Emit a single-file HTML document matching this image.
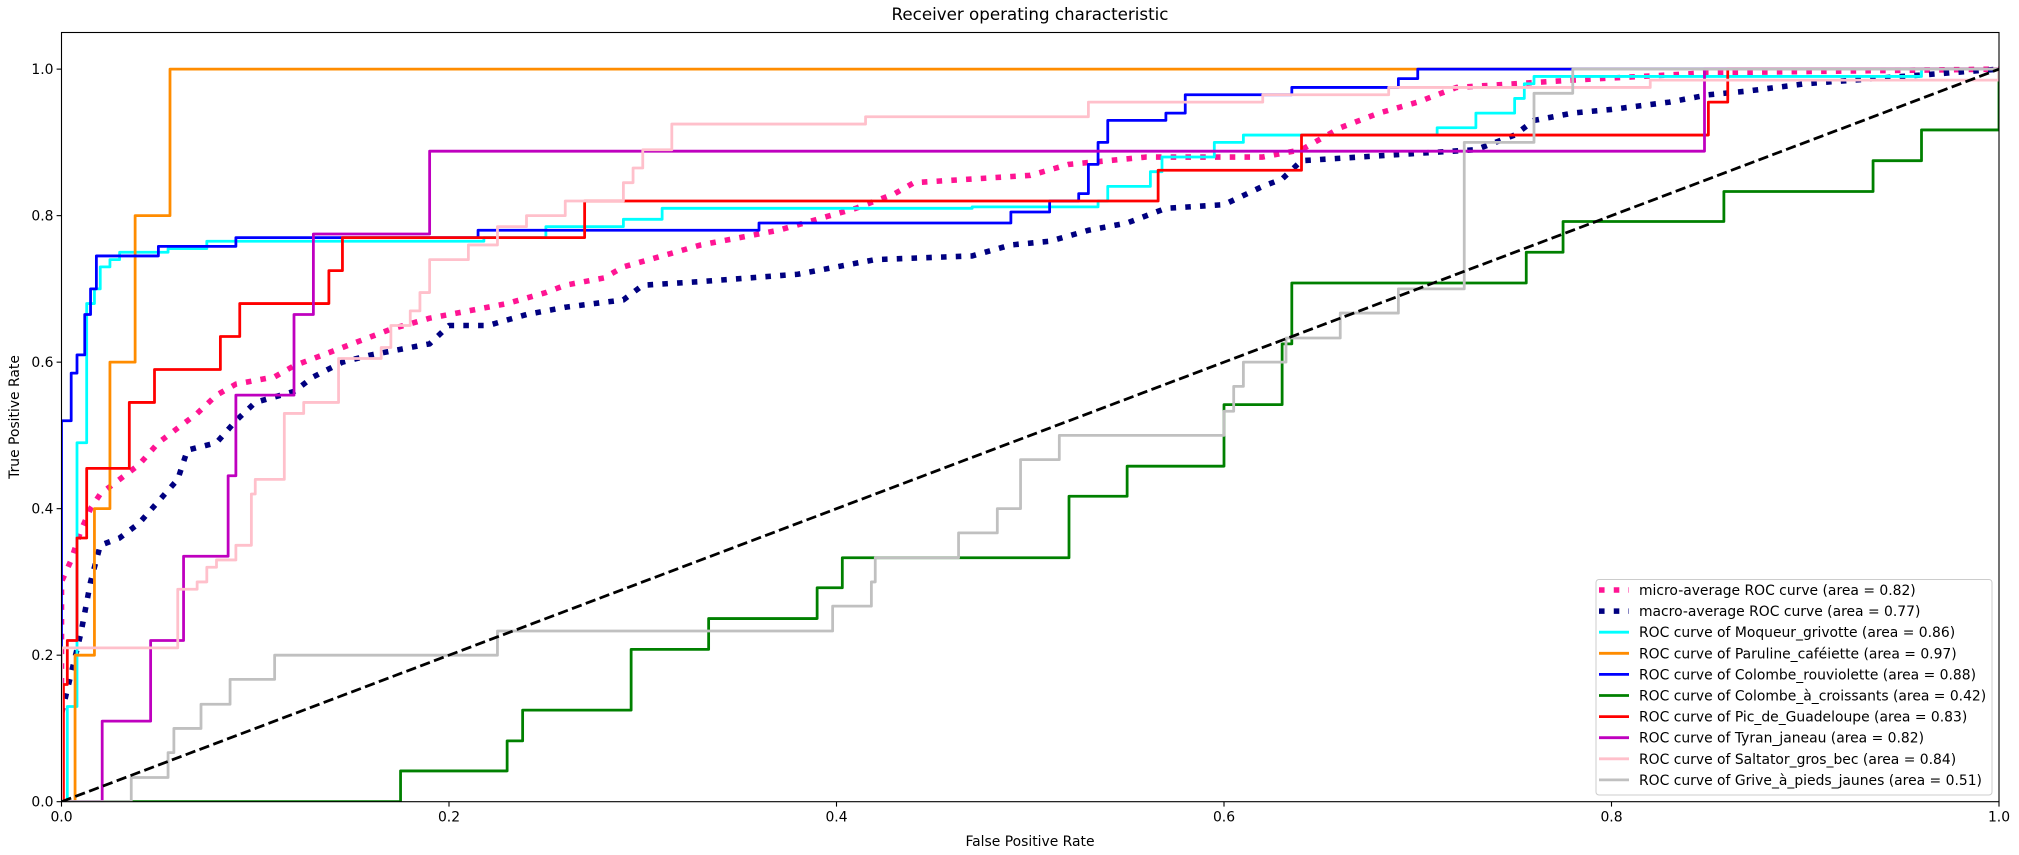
<!DOCTYPE html>
<html><head><meta charset="utf-8"><style>
body{margin:0;background:#fff;}
svg{display:block;font-family:"DejaVu Sans","Liberation Sans",sans-serif;}
</style></head><body>
<svg id="chart" width="2019" height="855">
<rect width="2019" height="855" fill="#fff"/>
<text x="1030" y="20" font-size="16.7" text-anchor="middle">Receiver operating characteristic</text>
<text x="1030" y="846" font-size="13.9" text-anchor="middle">False Positive Rate</text>
<text x="19" y="417" font-size="13.9" text-anchor="middle" transform="rotate(-90 19 417)">True Positive Rate</text>
<g id="plot"></g>
</svg>
<script>
const microF=[0,0,0.005,0.01,0.015,0.02,0.03,0.04,0.05,0.06,0.07,0.08,0.09,0.11,0.12,0.13,0.15,0.16,0.17,0.19,0.21,0.23,0.25,0.26,0.28,0.29,0.31,0.33,0.35,0.37,0.39,0.41,0.43,0.44,0.47,0.50,0.52,0.56,0.62,0.64,0.66,0.68,0.70,0.72,0.75,0.78,0.85,1];
const microT=[0,0.3,0.33,0.37,0.40,0.42,0.44,0.46,0.49,0.51,0.53,0.555,0.57,0.58,0.595,0.605,0.625,0.635,0.645,0.66,0.67,0.68,0.695,0.705,0.715,0.73,0.745,0.76,0.77,0.78,0.795,0.81,0.83,0.845,0.85,0.855,0.87,0.88,0.88,0.89,0.92,0.94,0.955,0.975,0.98,0.985,0.995,1];
const macroF=[0,0,0.01,0.015,0.02,0.03,0.04,0.05,0.06,0.065,0.08,0.09,0.1,0.12,0.13,0.145,0.16,0.19,0.2,0.22,0.24,0.26,0.29,0.30,0.33,0.38,0.40,0.42,0.47,0.49,0.51,0.53,0.55,0.57,0.6,0.62,0.63,0.64,0.70,0.73,0.75,0.76,0.78,0.80,0.83,0.85,0.87,0.9,0.95,1];
const macroT=[0,0.12,0.23,0.3,0.35,0.36,0.38,0.41,0.44,0.48,0.49,0.52,0.545,0.56,0.58,0.6,0.61,0.625,0.65,0.65,0.665,0.675,0.685,0.705,0.71,0.72,0.73,0.74,0.745,0.76,0.765,0.78,0.79,0.81,0.815,0.84,0.85,0.875,0.885,0.89,0.91,0.93,0.94,0.945,0.955,0.965,0.97,0.98,0.99,1];
const cyanF=[0,0.003,0.003,0.008,0.008,0.013,0.013,0.017,0.017,0.02,0.02,0.025,0.025,0.03,0.03,0.055,0.055,0.075,0.075,0.218,0.218,0.25,0.25,0.29,0.29,0.31,0.31,0.47,0.47,0.535,0.535,0.54,0.54,0.562,0.562,0.568,0.568,0.595,0.595,0.61,0.61,0.71,0.71,0.73,0.73,0.75,0.75,0.755,0.755,0.76,0.76,0.96,0.96,1];
const cyanT=[0,0,0.13,0.13,0.49,0.49,0.68,0.68,0.70,0.70,0.73,0.73,0.74,0.74,0.75,0.75,0.755,0.755,0.765,0.765,0.77,0.77,0.785,0.785,0.795,0.795,0.81,0.81,0.812,0.812,0.82,0.82,0.84,0.84,0.86,0.86,0.88,0.88,0.90,0.90,0.91,0.91,0.92,0.92,0.94,0.94,0.96,0.96,0.98,0.98,0.99,0.99,1,1];
const orangeF=[0,0.007,0.007,0.017,0.017,0.025,0.025,0.038,0.038,0.056,0.056,1];
const orangeT=[0,0,0.2,0.2,0.4,0.4,0.6,0.6,0.8,0.8,1,1];
const blueF=[0,0,0.005,0.005,0.008,0.008,0.012,0.012,0.015,0.015,0.018,0.018,0.05,0.05,0.09,0.09,0.215,0.215,0.36,0.36,0.49,0.49,0.51,0.51,0.525,0.525,0.53,0.53,0.535,0.535,0.54,0.54,0.57,0.57,0.58,0.58,0.635,0.635,0.69,0.69,0.70,0.70,1];
const blueT=[0,0.52,0.52,0.585,0.585,0.61,0.61,0.665,0.665,0.70,0.70,0.745,0.745,0.758,0.758,0.77,0.77,0.78,0.78,0.79,0.79,0.805,0.805,0.82,0.82,0.83,0.83,0.87,0.87,0.90,0.90,0.93,0.93,0.94,0.94,0.965,0.965,0.975,0.975,0.987,0.987,1,1];
const greenF=[0,0.175,0.175,0.23,0.23,0.238,0.238,0.294,0.294,0.334,0.334,0.39,0.39,0.403,0.403,0.52,0.52,0.55,0.55,0.6,0.6,0.63,0.63,0.635,0.635,0.756,0.756,0.775,0.775,0.858,0.858,0.935,0.935,0.96,0.96,1,1];
const greenT=[0,0,0.042,0.042,0.083,0.083,0.125,0.125,0.208,0.208,0.25,0.25,0.292,0.292,0.333,0.333,0.417,0.417,0.458,0.458,0.542,0.542,0.625,0.625,0.708,0.708,0.75,0.75,0.792,0.792,0.833,0.833,0.875,0.875,0.917,0.917,1];
const redF=[0,0.001,0.001,0.003,0.003,0.008,0.008,0.013,0.013,0.035,0.035,0.048,0.048,0.082,0.082,0.092,0.092,0.138,0.138,0.145,0.145,0.27,0.27,0.566,0.566,0.64,0.64,0.85,0.85,0.86,0.86,1];
const redT=[0,0,0.16,0.16,0.22,0.22,0.36,0.36,0.455,0.455,0.545,0.545,0.59,0.59,0.635,0.635,0.68,0.68,0.725,0.725,0.77,0.77,0.82,0.82,0.862,0.862,0.91,0.91,0.955,0.955,1,1];
const purpleF=[0,0.021,0.021,0.046,0.046,0.063,0.063,0.086,0.086,0.09,0.09,0.12,0.12,0.13,0.13,0.19,0.19,0.848,0.848,1];
const purpleT=[0,0,0.11,0.11,0.22,0.22,0.335,0.335,0.445,0.445,0.555,0.555,0.665,0.665,0.775,0.775,0.888,0.888,1,1];
const pinkF=[0,0,0.06,0.06,0.07,0.07,0.075,0.075,0.08,0.08,0.09,0.09,0.098,0.098,0.1,0.1,0.115,0.115,0.125,0.125,0.143,0.143,0.165,0.165,0.17,0.17,0.18,0.18,0.185,0.185,0.19,0.19,0.21,0.21,0.225,0.225,0.24,0.24,0.26,0.26,0.29,0.29,0.295,0.295,0.3,0.3,0.315,0.315,0.415,0.415,0.53,0.53,0.62,0.62,0.685,0.685,0.82,0.82,1,1];
const pinkT=[0,0.21,0.21,0.29,0.29,0.30,0.30,0.32,0.32,0.33,0.33,0.35,0.35,0.42,0.42,0.44,0.44,0.53,0.53,0.545,0.545,0.605,0.605,0.62,0.62,0.65,0.65,0.67,0.67,0.695,0.695,0.74,0.74,0.76,0.76,0.785,0.785,0.80,0.80,0.82,0.82,0.845,0.845,0.865,0.865,0.89,0.89,0.925,0.925,0.935,0.935,0.955,0.955,0.965,0.965,0.975,0.975,0.985,0.985,1];
const grayF=[0,0.036,0.036,0.055,0.055,0.058,0.058,0.072,0.072,0.087,0.087,0.11,0.11,0.225,0.225,0.398,0.398,0.418,0.418,0.42,0.42,0.463,0.463,0.483,0.483,0.495,0.495,0.515,0.515,0.6,0.6,0.605,0.605,0.61,0.61,0.632,0.632,0.66,0.66,0.69,0.69,0.724,0.724,0.76,0.76,0.78,0.78,1];
const grayT=[0,0,0.033,0.033,0.067,0.067,0.1,0.1,0.133,0.133,0.167,0.167,0.2,0.2,0.233,0.233,0.267,0.267,0.3,0.3,0.333,0.333,0.367,0.367,0.4,0.4,0.467,0.467,0.5,0.5,0.533,0.533,0.567,0.567,0.6,0.6,0.633,0.633,0.667,0.667,0.7,0.7,0.9,0.9,0.967,0.967,1,1];
const xTicks=[0,0.2,0.4,0.6,0.8,1.0];
const yTicks=[0,0.2,0.4,0.6,0.8,1.0];
const tickLabels=["0.0","0.2","0.4","0.6","0.8","1.0"];
const legendLabels=["micro-average ROC curve (area = 0.82)","macro-average ROC curve (area = 0.77)","ROC curve of Moqueur_grivotte (area = 0.86)","ROC curve of Paruline_caféiette (area = 0.97)","ROC curve of Colombe_rouviolette (area = 0.88)","ROC curve of Colombe_à_croissants (area = 0.42)","ROC curve of Pic_de_Guadeloupe (area = 0.83)","ROC curve of Tyran_janeau (area = 0.82)","ROC curve of Saltator_gros_bec (area = 0.84)","ROC curve of Grive_à_pieds_jaunes (area = 0.51)"];

const L=61.5,R=1999,T=32.5,B=801.7;
const X0=0,X1=1,Y0=0,Y1=1.05;
function sx(v){return L+(v-X0)/(X1-X0)*(R-L);}
function sy(v){return B-(v-Y0)/(Y1-Y0)*(B-T);}
const NS="http://www.w3.org/2000/svg";
const g=document.getElementById('plot');
function mk(tag,attrs,parent){const e=document.createElementNS(NS,tag);for(const k in attrs)e.setAttribute(k,attrs[k]);(parent||g).appendChild(e);return e;}

const clip=mk('clipPath',{id:'clp'});mk('rect',{x:L,y:T,width:R-L,height:B-T},clip);
const series=[
 {f:microF,t:microT,c:'deeppink',w:5.56,d:'5.56 9.2',n:'micro-average-curve'},
 {f:macroF,t:macroT,c:'navy',w:5.56,d:'5.56 9.2',n:'macro-average-curve'},
 {f:cyanF,t:cyanT,c:'aqua',w:2.78,n:'moqueur-grivotte-curve'},
 {f:orangeF,t:orangeT,c:'darkorange',w:2.78,n:'paruline-cafeiette-curve'},
 {f:blueF,t:blueT,c:'blue',w:2.78,n:'colombe-rouviolette-curve'},
 {f:greenF,t:greenT,c:'green',w:2.78,n:'colombe-a-croissants-curve'},
 {f:redF,t:redT,c:'red',w:2.78,n:'pic-de-guadeloupe-curve'},
 {f:purpleF,t:purpleT,c:'m',w:2.78,n:'tyran-janeau-curve'},
 {f:pinkF,t:pinkT,c:'pink',w:2.78,n:'saltator-gros-bec-curve'},
 {f:grayF,t:grayT,c:'silver',w:2.78,n:'grive-a-pieds-jaunes-curve'}
];
const cmap={m:'#bf00bf'};
const lines=mk('g',{'clip-path':'url(#clp)'});


series.forEach(s=>{
  const pts=s.f.map((v,i)=>sx(v).toFixed(2)+','+sy(s.t[i]).toFixed(2)).join(' ');
  const p=mk('polyline',{points:pts,fill:'none',stroke:cmap[s.c]||s.c,'stroke-width':s.w,'stroke-linejoin':'round'},lines);
  if(s.d)p.setAttribute('stroke-dasharray',s.d);
  
  
});
const diag=mk('line',{x1:sx(0),y1:sy(0),x2:sx(1),y2:sy(1),stroke:'#000','stroke-width':2.78,'stroke-dasharray':'10.3 4.45'},lines);



const frame=mk('rect',{x:L,y:T,width:R-L,height:B-T,fill:'none',stroke:'#000','stroke-width':1.1});


xTicks.forEach((v,i)=>{
  const tk=mk('line',{x1:sx(v),y1:B,x2:sx(v),y2:B+4.9,stroke:'#000','stroke-width':1.1});
  
  
  const tx=mk('text',{x:sx(v),y:B+20,'font-size':13.9,'text-anchor':'middle'});tx.textContent=tickLabels[i];
  
  
});
yTicks.forEach((v,i)=>{
  const tk=mk('line',{x1:L-4.9,y1:sy(v),x2:L,y2:sy(v),stroke:'#000','stroke-width':1.1});
  
  
  const tx=mk('text',{x:L-8,y:sy(v)+5,'font-size':13.9,'text-anchor':'end'});tx.textContent=tickLabels[i];
  
  
});
const lg=mk('g',{});


mk('rect',{x:1596,y:579.5,width:396,height:215.5,rx:3,fill:'#fff','fill-opacity':0.8,stroke:'#ccc','stroke-width':1},lg);
series.forEach((s,i)=>{
  const y=590+i*21.1;
  const h=mk('line',{x1:1599,y1:y,x2:1629,y2:y,stroke:cmap[s.c]||s.c,'stroke-width':s.w},lg);
  if(s.d)h.setAttribute('stroke-dasharray','5.56 9.2');
  
  
  const t=mk('text',{x:1639,y:y+5,'font-size':13.9},lg);t.textContent=legendLabels[i];
  
  
});
</script>
</body></html>
